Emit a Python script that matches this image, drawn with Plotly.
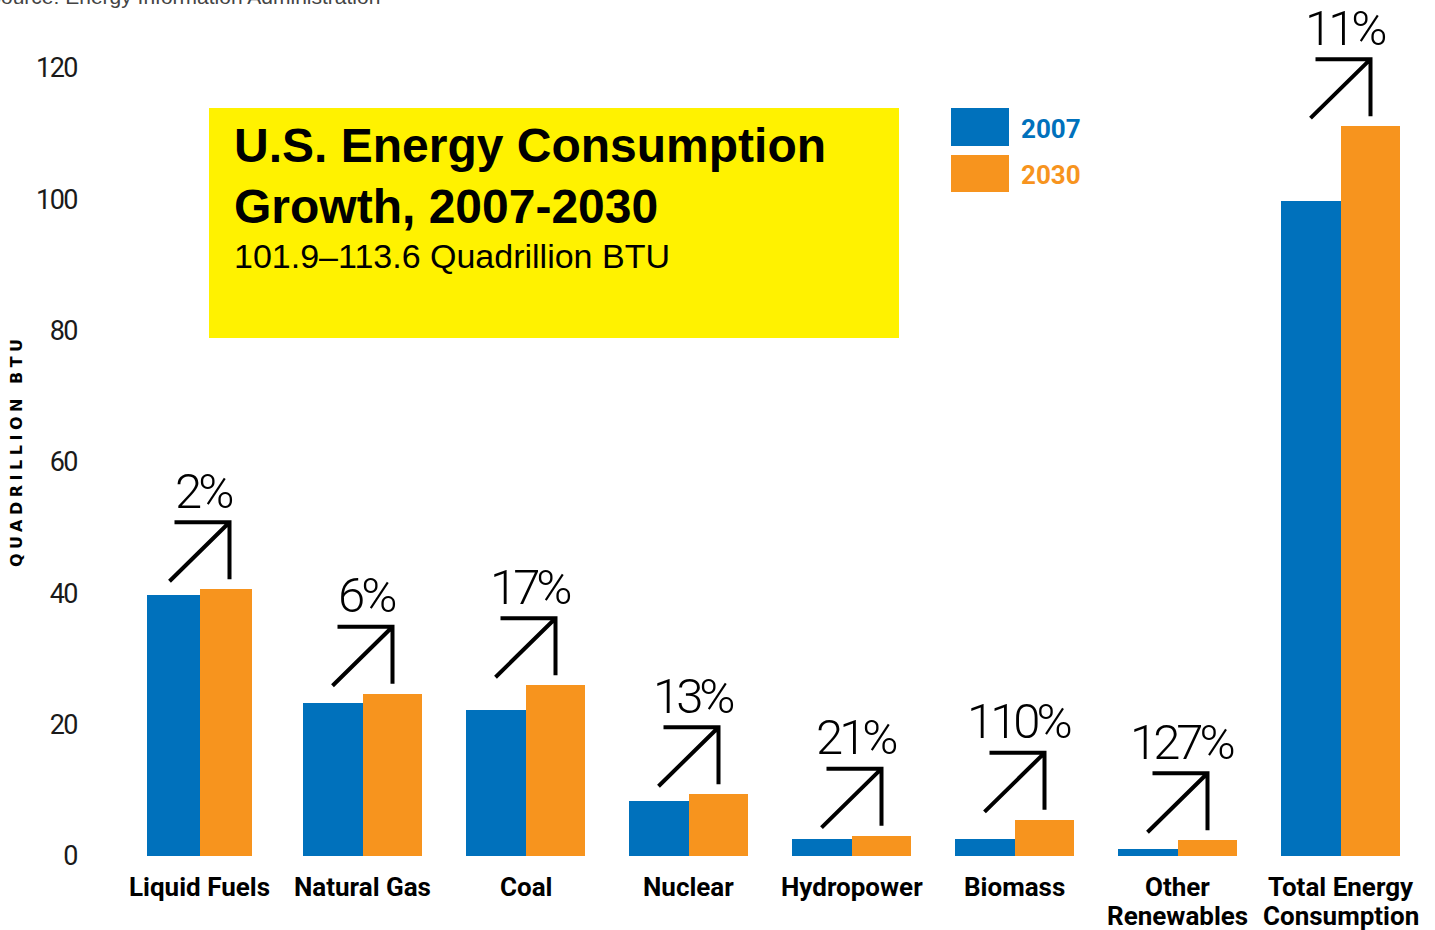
import plotly.graph_objects as go

# Energy consumption by source, quadrillion BTU
categories = ["Liquid Fuels", "Natural Gas", "Coal", "Nuclear", "Hydropower",
              "Biomass", "Other<br>Renewables", "Total Energy<br>Consumption"]
values_2007 = [39.7, 23.3, 22.2, 8.4, 2.6, 2.6, 1.07, 99.7]
values_2030 = [40.6, 24.7, 26.0, 9.4, 3.1, 5.5, 2.4, 111.1]
growth_labels = ["2%", "6%", "17%", "13%", "21%", "110%", "127%", "11%"]
y_ticks = [0, 20, 40, 60, 80, 100, 120]

# styling
BLUE = "#0071BC"
ORANGE = "#F7941E"
YELLOW = "#FFF200"
bar_width = [0.325, 0.362, 0.362, 0.362, 0.362, 0.362, 0.362, 0.362]
LIGHT_FONT = "Roboto, DejaVu Sans Condensed, sans-serif"

W, H = 1435, 930
ML, MR, MT, MB = 118, 13, 2, 74
PW, PH = W - ML - MR, H - MT - MB


def px_x(px):
    return (px - ML) / PW


def px_y(py):
    return (H - MB - py) / PH


def tight(text, spacing):
    return f'<span style="letter-spacing:{spacing}px">{text}</span>'


xs = list(range(len(categories)))

fig = go.Figure()
fig.add_trace(go.Bar(
    x=xs, y=values_2007, width=bar_width, offset=[-w for w in bar_width],
    marker=dict(color=BLUE, line=dict(width=0)), name="2007",
))
fig.add_trace(go.Bar(
    x=xs, y=values_2030, width=bar_width, offset=[0] * len(bar_width),
    marker=dict(color=ORANGE, line=dict(width=0)), name="2030",
))

shapes = []
annotations = []

# growth arrows and percentage labels above each 2030 bar
arrow_path = "M -30,8 L 29,66 M -25,67 L 32,67 M 30,69 L 30,10"
for i, (v, lab) in enumerate(zip(values_2030, growth_labels)):
    shapes.append(dict(
        type="path", xref="x", yref="y", xsizemode="pixel", ysizemode="pixel",
        xanchor=i, yanchor=v, path=arrow_path,
        line=dict(color="black", width=4), layer="above",
    ))
    annotations.append(dict(
        x=i, y=v, xref="x", yref="y", text=tight(lab, -4), showarrow=False,
        xanchor="center", yanchor="middle", xshift=4, yshift=98,
        font=dict(family=LIGHT_FONT, size=49, color="black", weight=300),
    ))

# category labels under the bars (one annotation per line)
for i, c in enumerate(categories):
    for j, line in enumerate(c.split("<br>")):
        annotations.append(dict(
            x=i, y=0, xref="x", yref="y", text=line, showarrow=False,
            xanchor="center", yanchor="top", yshift=-14 - 29 * j,
            font=dict(family="Roboto, Liberation Sans, sans-serif", size=26,
                      color="black", weight="bold"),
        ))

# yellow title panel
shapes.append(dict(type="rect", xref="paper", yref="paper",
                   x0=px_x(209), x1=px_x(899), y0=px_y(338), y1=px_y(108),
                   fillcolor=YELLOW, line=dict(width=0), layer="below"))
annotations += [
    dict(xref="paper", yref="paper", x=px_x(232), y=px_y(146),
         text="U.S. Energy Consumption", showarrow=False,
         xanchor="left", yanchor="middle",
         font=dict(family="Liberation Sans, Arial, sans-serif", size=48,
                   color="black", weight="bold")),
    dict(xref="paper", yref="paper", x=px_x(232), y=px_y(206),
         text="Growth, 2007-2030", showarrow=False,
         xanchor="left", yanchor="middle",
         font=dict(family="Liberation Sans, Arial, sans-serif", size=48,
                   color="black", weight="bold")),
    dict(xref="paper", yref="paper", x=px_x(232), y=px_y(256),
         text="101.9\u2013113.6 Quadrillion BTU", showarrow=False,
         xanchor="left", yanchor="middle",
         font=dict(family="Liberation Sans, Arial, sans-serif", size=34,
                   color="black")),
]

# legend swatches
shapes += [
    dict(type="rect", xref="paper", yref="paper",
         x0=px_x(951), x1=px_x(1009), y0=px_y(146), y1=px_y(108),
         fillcolor=BLUE, line=dict(width=0)),
    dict(type="rect", xref="paper", yref="paper",
         x0=px_x(951), x1=px_x(1009), y0=px_y(192), y1=px_y(155),
         fillcolor=ORANGE, line=dict(width=0)),
]
annotations += [
    dict(xref="paper", yref="paper", x=px_x(1019), y=px_y(129), text="2007",
         showarrow=False, xanchor="left", yanchor="middle",
         font=dict(family="Roboto, Liberation Sans, sans-serif", size=26,
                   color=BLUE, weight="bold")),
    dict(xref="paper", yref="paper", x=px_x(1019), y=px_y(175), text="2030",
         showarrow=False, xanchor="left", yanchor="middle",
         font=dict(family="Roboto, Liberation Sans, sans-serif", size=26,
                   color=ORANGE, weight="bold")),
]

# vertical axis title
annotations.append(dict(
    xref="paper", yref="paper", x=px_x(16), y=px_y(450),
    text=tight("QUADRILLION BTU", 4.5),
    showarrow=False, textangle=-90, xanchor="center", yanchor="middle",
    font=dict(family="DejaVu Sans, sans-serif", size=16, color="black",
              weight="bold"),
))

# source line along the top edge
annotations.append(dict(
    xref="paper", yref="paper", x=px_x(382), y=px_y(10),
    text="Source: Energy Information Administration", showarrow=False,
    xanchor="right", yanchor="bottom",
    font=dict(family="Liberation Sans, Arial, sans-serif", size=21,
              color="#444444"),
))

fig.update_layout(
    width=W, height=H,
    margin=dict(l=ML, r=MR, t=MT, b=MB, pad=0),
    paper_bgcolor="white", plot_bgcolor="white",
    barmode="overlay", bargap=0, showlegend=False,
    shapes=shapes, annotations=annotations,
    xaxis=dict(range=[-0.5, len(categories) - 0.5], showticklabels=False,
               showgrid=False, zeroline=False, showline=False, ticks=""),
    yaxis=dict(range=[0, 130], tickvals=y_ticks,
               ticktext=[tight(str(t), -1.5) for t in y_ticks],
               showgrid=False, zeroline=False, showline=False, ticks="",
               ticklabelstandoff=40,
               tickfont=dict(family=LIGHT_FONT, size=27, color="#1a1a1a")),
)

fig.write_html("out.html")
